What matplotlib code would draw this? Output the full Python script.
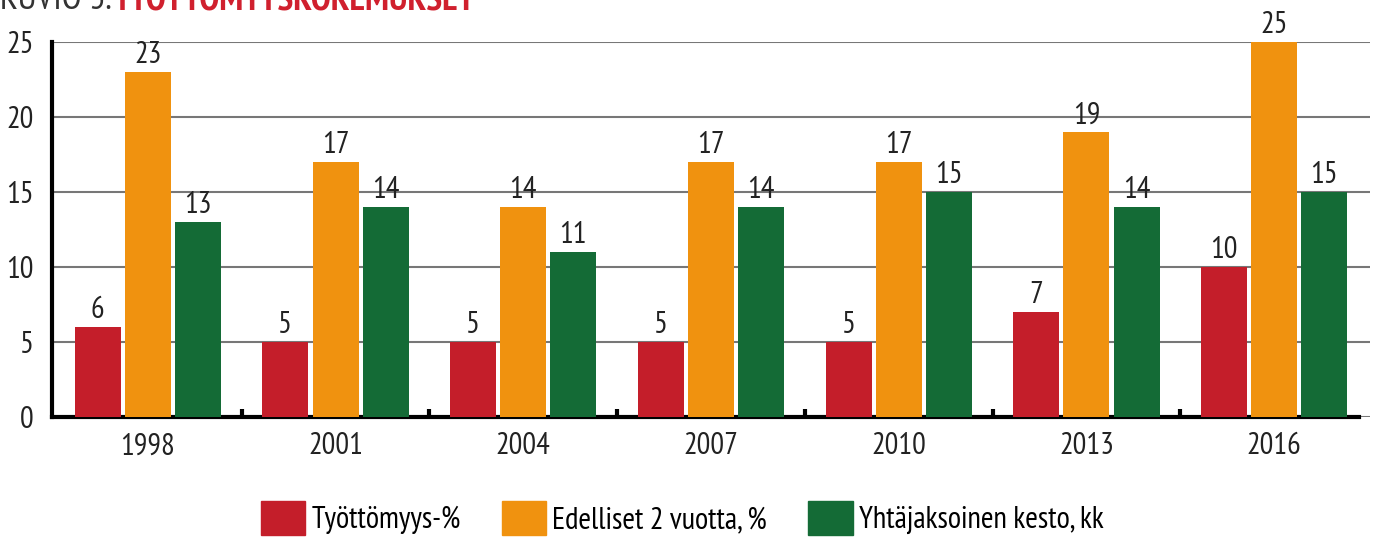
import numpy as np
import matplotlib
matplotlib.use("Agg")
import matplotlib.pyplot as plt
from matplotlib.patches import Patch

years = ["1998", "2001", "2004", "2007", "2010", "2013", "2016"]
tyottomyys = [6, 5, 5, 5, 5, 7, 10]
edelliset = [23, 17, 14, 17, 17, 19, 25]
kesto = [13, 14, 11, 14, 15, 14, 15]
series_names = ["Työttömyys-%", "Edelliset 2 vuotta, %", "Yhtäjaksoinen kesto, kk"]
colors = ["#C41E2A", "#F0920F", "#146B36"]

plt.rcParams['font.family'] = ['PT Sans Narrow', 'DejaVu Sans']

fig = plt.figure(figsize=(13.78, 5.38), dpi=100)
ax = fig.add_axes([52/1378, 1 - 417/538, 1318/1378, 375/538])

x = np.arange(len(years))
w = 0.245
step = 0.267
for i, (vals, c) in enumerate(zip([tyottomyys, edelliset, kesto], colors)):
    bars = ax.bar(x + (i - 1) * step, vals, w, color=c, zorder=3, label=series_names[i])
    for b, v in zip(bars, vals):
        ax.annotate(str(v), (b.get_x() + b.get_width() / 2, v), xytext=(0, 2),
                    textcoords="offset points", ha="center", va="bottom",
                    fontsize=22, color="#222222")

ax.set_xlim(-0.51, 6.51)
ax.set_ylim(0, 25)
ax.set_yticks([0, 5, 10, 15, 20, 25])
ax.yaxis.grid(True, color="#777777", linewidth=1.5, zorder=0)
ax.tick_params(axis="y", length=0, pad=13, labelsize=22, labelcolor="#222222")

ax.set_xticks(x)
ax.set_xticklabels(years)
ax.tick_params(axis="x", which="major", length=0, pad=11, labelsize=22, labelcolor="#222222")
ax.set_xticks(x[:-1] + 0.5, minor=True)
ax.tick_params(axis="x", which="minor", direction="in", length=6, width=3, color="black")

for s in ["top", "right"]:
    ax.spines[s].set_visible(False)
ax.spines["left"].set_linewidth(3)
ax.spines["bottom"].set_linewidth(3)
ax.spines["bottom"].set_bounds(-0.51, 6.45)

# title, cut off at the top edge like in the source
fig.text(0.0, 1 - 9/538, "KUVIO 3.", fontsize=26, color="#333333", va="baseline")
fig.text(114/1378, 1 - 9/538, "TYÖTTÖMYYSKOKEMUKSET", fontsize=26, color="#D0202E",
         fontweight="bold", va="baseline")

handles = [Patch(color=c) for c in colors]
fig.legend(handles, series_names, loc="lower center", bbox_to_anchor=(0.495, -0.034),
           ncol=3, frameon=False, fontsize=22, handlelength=1.45, handleheight=1.35,
           handletextpad=0.2, columnspacing=1.35, borderpad=0.2)

fig.savefig("out.png", dpi=100)
